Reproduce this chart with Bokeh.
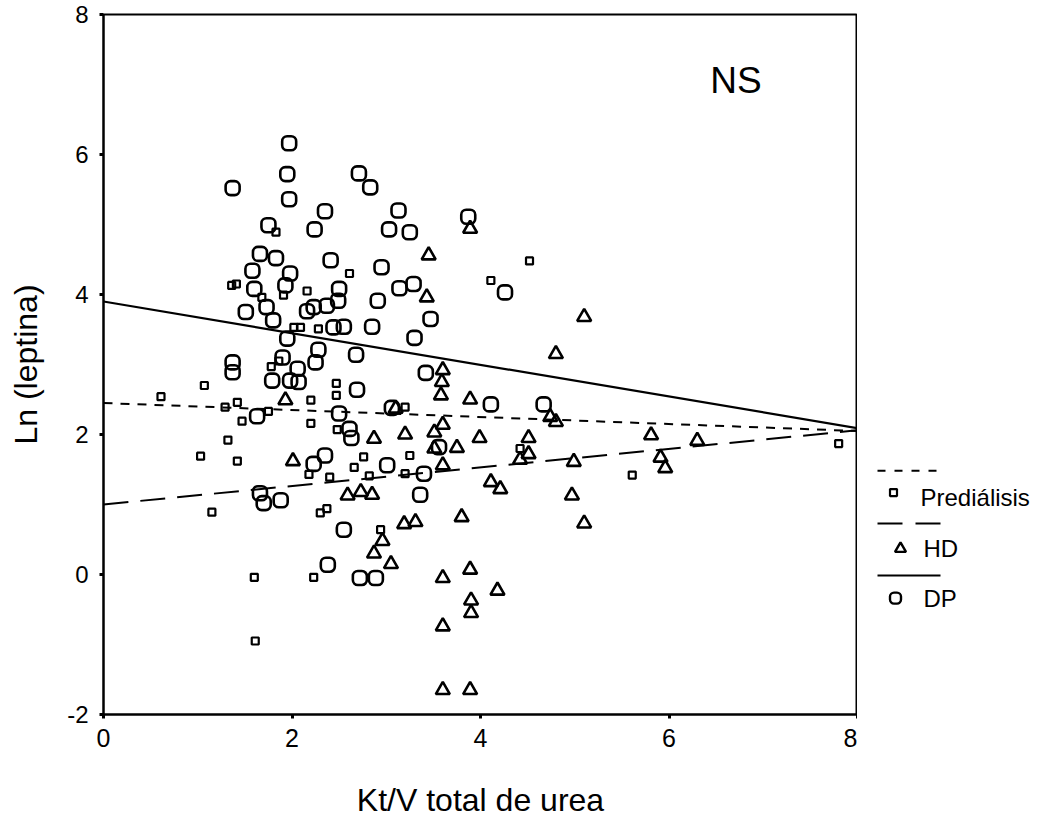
from bokeh.plotting import figure
from bokeh.models import Range1d, Label, FixedTicker
from bokeh.layouts import row
from bokeh.embed import file_html
from bokeh.resources import INLINE

# ---------------- data ----------------
dp_x = [1.97, 1.95, 1.97, 1.37, 2.71, 2.83, 2.35, 3.13, 1.75, 2.24, 3.03, 3.25, 3.87,
        1.66, 1.83, 2.41, 1.58, 1.98, 2.95, 1.93, 1.60, 2.50, 3.14, 3.29, 4.26,
        2.49, 2.91, 1.73, 1.51, 2.16, 2.23, 2.37, 3.47, 1.80, 2.44, 2.55, 2.85,
        3.30, 1.95, 2.28, 2.68, 1.90, 1.37, 1.37, 2.06, 2.25, 3.42, 1.79, 1.98,
        2.07, 2.69, 1.63, 2.50, 3.06, 4.11, 4.67, 2.61, 2.63, 3.56, 2.35, 2.23,
        3.01, 3.40, 1.66, 1.70, 1.88, 3.36, 2.55, 2.38, 2.72, 2.89]
dp_y = [6.16, 5.72, 5.36, 5.52, 5.73, 5.53, 5.19, 5.20, 4.99, 4.93, 4.93, 4.89, 5.11,
        4.58, 4.52, 4.49, 4.34, 4.30, 4.39, 4.13, 4.08, 4.08, 4.09, 4.15, 4.03,
        3.91, 3.91, 3.82, 3.75, 3.76, 3.82, 3.84, 3.65, 3.63, 3.53, 3.54, 3.54,
        3.38, 3.37, 3.21, 3.14, 3.10, 3.03, 2.89, 2.94, 3.03, 2.88, 2.77, 2.77,
        2.75, 2.64, 2.26, 2.30, 2.38, 2.43, 2.43, 2.08, 1.95, 1.82, 1.70, 1.58,
        1.56, 1.44, 1.16, 1.02, 1.06, 1.14, 0.64, 0.14, -0.05, -0.05]

pre_x = [1.83, 1.68, 1.91, 2.16, 2.61, 1.36, 1.41, 2.02, 2.09, 2.28, 1.86, 1.78,
         1.07, 2.47, 2.47, 0.61, 2.20, 1.42, 1.29, 1.75, 1.47, 2.20, 2.48, 1.32,
         1.03, 1.42, 2.18, 2.40, 2.76, 2.66, 2.82, 1.15, 2.30, 2.37, 2.94, 1.60,
         2.23, 3.25, 3.20, 1.61, 4.52, 4.11, 3.20, 4.42, 5.61, 7.80]
pre_y = [4.89, 3.96, 3.99, 4.05, 4.30, 4.13, 4.15, 3.53, 3.53, 3.51, 3.05, 2.97,
         2.70, 2.73, 2.56, 2.54, 2.49, 2.46, 2.39, 2.33, 2.19, 2.16, 2.07, 1.92,
         1.69, 1.62, 1.43, 1.39, 1.68, 1.53, 1.41, 0.89, 0.88, 0.94, 0.64, -0.04,
         -0.04, 1.70, 1.44, -0.95, 4.48, 4.20, 2.39, 1.80, 1.42, 1.87]

hd_x = [1.93, 2.87, 2.01, 2.59, 2.73, 2.85, 2.96, 2.87, 3.05, 3.19, 3.31, 3.80,
        3.60, 3.89, 4.18, 3.90, 3.90, 3.60, 3.60, 3.89, 3.89, 3.45, 3.43, 5.10,
        4.80, 3.60, 3.59, 3.58, 3.89, 4.74, 4.80, 3.10, 5.81, 3.20, 3.51, 3.60,
        3.99, 4.51, 3.51, 3.75, 4.51, 4.42, 3.60, 4.99, 5.91, 5.96, 4.11, 4.21,
        4.97, 6.30, 5.10]
hd_y = [2.49, 1.94, 1.62, 1.13, 1.18, 1.14, 0.48, 0.30, 0.15, 0.72, 0.75, 0.82,
        -0.05, 0.07, -0.23, -0.37, -0.55, -0.74, -1.65, -1.65, 4.94, 4.56, 3.96, 3.68,
        3.15, 2.92, 2.75, 2.56, 2.50, 2.25, 2.18, 2.37, 1.99, 2.00, 2.03, 2.14,
        1.95, 1.95, 1.80, 1.81, 1.72, 1.64, 1.56, 1.61, 1.67, 1.52, 1.32, 1.22,
        1.13, 1.91, 0.73]

# fitted lines (value at Kt/V = 0 and at Kt/V = 8)
fit_groups = ["Prediálisis", "HD", "DP"]
fit_x = [0, 8]
fit_y_pre = [2.45, 2.05]
fit_y_hd = [1.00, 2.06]
fit_y_dp = [3.90, 2.09]

x_ticks = [0, 2, 4, 6, 8]
y_ticks = [-2, 0, 2, 4, 6, 8]

FONT = "Liberation Sans"

# ---------------- main plot ----------------
p = figure(width=857, height=836, frame_width=754, frame_height=700,
           x_range=Range1d(0, 8), y_range=Range1d(-2, 8),
           output_backend="svg", toolbar_location=None,
           min_border_left=103, min_border_right=0, min_border_top=14, min_border_bottom=122)
p.xgrid.visible = False
p.ygrid.visible = False
p.background_fill_color = "white"
p.border_fill_color = "white"
p.outline_line_color = "black"
p.outline_line_width = 2

for ax in (p.xaxis[0], p.yaxis[0]):
    ax.axis_line_width = 2
    ax.axis_line_color = "black"
    ax.major_tick_line_width = 3
    ax.major_tick_in = 0
    ax.major_tick_out = 4
    ax.minor_tick_line_color = None
    ax.major_label_text_font = FONT
    ax.major_label_text_color = "black"
    ax.axis_label_text_font = FONT
    ax.axis_label_text_font_style = "normal"
    ax.axis_label_text_color = "black"
    ax.axis_label_text_font_size = "32px"

p.xaxis.ticker = FixedTicker(ticks=x_ticks)
p.yaxis.ticker = FixedTicker(ticks=y_ticks)
p.yaxis.major_label_overrides = {t: str(t) for t in y_ticks}
p.xaxis.major_label_text_font_size = "25px"
p.yaxis.major_label_text_font_size = "24px"
p.xaxis.major_label_standoff = 10
p.yaxis.major_label_standoff = 11
p.xaxis.axis_label = "Kt/V total de urea"
p.yaxis.axis_label = "Ln (leptina)"
p.xaxis.axis_label_standoff = 32
p.yaxis.axis_label_standoff = 20

# fit lines
p.line(fit_x, fit_y_pre, line_color="black", line_width=2, line_dash="9 8")
p.line(fit_x, fit_y_hd, line_color="black", line_width=2, line_dash="25 12")
p.line(fit_x, fit_y_dp, line_color="black", line_width=2.2)

# points
p.rect(dp_x, dp_y, width=14, height=14, width_units="screen", height_units="screen",
       border_radius=5, fill_color=None, line_color="black", line_width=2.6)
p.scatter(pre_x, pre_y, marker="square", size=7, fill_color=None,
          line_color="black", line_width=2.2)
p.scatter(hd_x, hd_y, marker="triangle", size=14, fill_color=None,
          line_color="black", line_width=2.6)

p.add_layout(Label(x=6.71, y=7.06, text="NS", text_font=FONT, text_font_size="37px",
                   text_align="center", text_baseline="middle", text_color="black"))

# ---------------- legend panel ----------------
lg = figure(width=189, height=836, x_range=Range1d(857, 1046), y_range=Range1d(836, 0),
            output_backend="svg", toolbar_location=None,
            min_border=0, min_border_left=0, min_border_right=0,
            min_border_top=0, min_border_bottom=0)
lg.axis.visible = False
lg.xgrid.visible = False
lg.ygrid.visible = False
lg.outline_line_color = None
lg.background_fill_color = "white"
lg.border_fill_color = "white"

line_x = [877, 940]
lg.line(line_x, [545, 545], line_color="black", line_width=2, line_dash="8 9")
lg.line(line_x, [608, 608], line_color="black", line_width=2, line_dash="25 13")
lg.line(line_x, [670, 670], line_color="black", line_width=2)
lg.scatter([893], [571], marker="square", size=7, fill_color=None, line_color="black", line_width=2.2)
lg.scatter([900], [638], marker="triangle", size=11, fill_color=None, line_color="black", line_width=2.4)
lg.rect([895], [697], width=11, height=11, width_units="screen", height_units="screen",
        border_radius=4, fill_color=None, line_color="black", line_width=2.4)
lg.text([920, 923, 923], [577, 638, 698], text=fit_groups, text_font={"value": FONT},
        text_font_size="24px", text_baseline="middle", text_align="left", text_color="black")

layout = row(p, lg, spacing=0)
open("out.html", "w").write(file_html(layout, INLINE))
